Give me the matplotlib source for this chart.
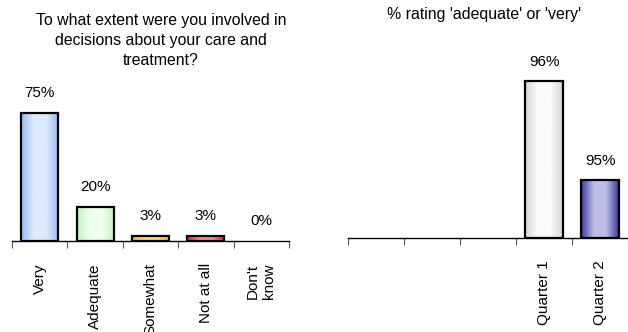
import numpy as np
import matplotlib.pyplot as plt
from matplotlib.colors import LinearSegmentedColormap

plt.rcParams['font.family'] = ['Liberation Sans', 'DejaVu Sans']
plt.rcParams['font.size'] = 11

# involvement question
categories = ['Very', 'Adequate', 'Somewhat', 'Not at all', "Don't\nknow"]
percents = [75, 20, 3, 3, 0]
edge_cols = ['#98bcf0', '#c4f0c4', '#f0b828', '#e02828', '#ffffff']
mid_cols = ['#dde9fd', '#f0fff0', '#ffe070', '#ff8a8a', '#ffffff']

# quarterly summary
quarters = ['', '', '', 'Quarter 1', 'Quarter 2']
quarter_vals = [None, None, None, 96, 95]
q_edge_cols = [None, None, None, '#d8d8d8', '#3a3a9e']
q_mid_cols = [None, None, None, '#fafafa', '#bcbce6']


def gradient_bar(ax, x, h, base, edge, mid, width=0.67):
    bar = ax.bar(x, h, width=width, bottom=base, color='none',
                 edgecolor='black', linewidth=1.6, zorder=3)[0]
    cmap = LinearSegmentedColormap.from_list('g', [edge, mid, mid, edge])
    grad = np.linspace(0, 1, 64).reshape(1, -1)
    im = ax.imshow(grad, cmap=cmap, aspect='auto', zorder=2,
                   extent=(x - width / 2, x + width / 2, base, base + h))
    im.set_clip_path(bar)
    return bar


def style_axis(ax, labels):
    n = len(labels)
    ax.set_xlim(-0.5, n - 0.5)
    for s in ['top', 'right', 'left']:
        ax.spines[s].set_visible(False)
    ax.spines['bottom'].set_linewidth(1.0)
    ax.set_yticks([])
    ax.set_xticks(range(n))
    ax.set_xticklabels(labels, rotation=90, ha='center', va='top',
                       multialignment='center')
    ax.tick_params(axis='x', which='major', length=0, pad=16)
    ax.set_xticks(np.arange(-0.5, n), minor=True)
    ax.tick_params(axis='x', which='minor', length=5, color='#555555', width=0.8)


fig = plt.figure(figsize=(6.28, 3.32), dpi=100)

# left panel
ax1 = fig.add_axes([12 / 628, 91 / 332, 277 / 628, 171 / 332])
ax1.set_ylim(0, 100)
for i, v in enumerate(percents):
    if v > 0:
        gradient_bar(ax1, i, v, 0, edge_cols[i], mid_cols[i])
    ax1.annotate(f'{v}%', xy=(i, v), xytext=(0, 20), textcoords='offset pixels',
                 ha='center', va='center')
style_axis(ax1, categories)
fig.text(161 / 628, 1 - 13 / 332,
         'To what extent were you involved in\ndecisions about your care and\ntreatment?',
         ha='center', va='top', multialignment='center', linespacing=1.42,
         fontsize=11.4)

# right panel
ymin = 94.41
ax2 = fig.add_axes([348 / 628, 94 / 332, 280 / 628, 197 / 332])
ax2.set_ylim(ymin, ymin + 2.0)
for i, v in enumerate(quarter_vals):
    if v is None:
        continue
    gradient_bar(ax2, i, v - ymin, ymin, q_edge_cols[i], q_mid_cols[i])
    ax2.annotate(f'{v}%', xy=(i, v), xytext=(0, 19), textcoords='offset pixels',
                 ha='center', va='center')
style_axis(ax2, quarters)
ax2.spines['bottom'].set_clip_on(False)
fig.text(484 / 628, 1 - 14 / 332, "% rating 'adequate' or 'very'",
         ha='center', va='center', fontsize=11.4)

fig.savefig('out.png', dpi=100)
